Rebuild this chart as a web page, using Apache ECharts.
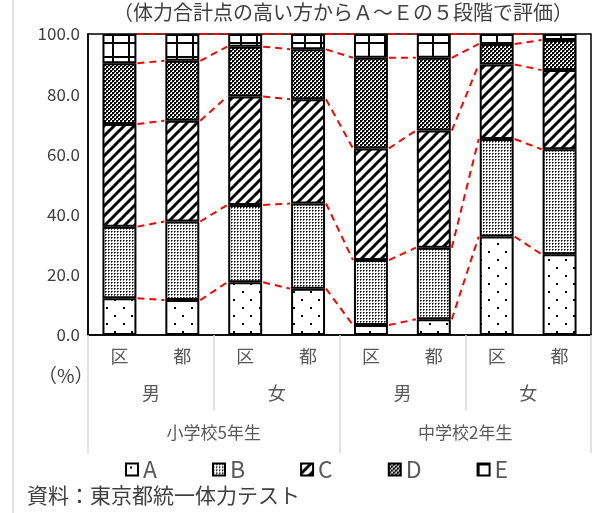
<!DOCTYPE html>
<html>
<head>
<meta charset="utf-8">
<script src="https://cdn.jsdelivr.net/npm/echarts@6/dist/echarts.min.js"></script>
<style>
  html, body { margin: 0; padding: 0; background: #fff; }
  #chart { width: 606px; height: 513px; }
</style>
</head>
<body>
<div id="chart"></div>
<script>
// category labels (3 levels)
const cityLabels = ['区', '都', '区', '都', '区', '都', '区', '都'];
const sexLabels = ['男', '女', '男', '女'];
const gradeLabels = ['小学校5年生', '中学校2年生'];
const yTicks = [0, 20, 40, 60, 80, 100];

// share of each grade (%)
const gradeA = [12.2, 11.6, 17.5, 15.4, 3.3, 5.2, 32.7, 26.8];
const gradeB = [23.8, 26.1, 25.7, 28.3, 21.6, 23.8, 32.4, 34.9];
const gradeC = [34.1, 33.5, 36.0, 34.6, 37.1, 38.9, 24.8, 26.3];
const gradeD = [20.2, 19.9, 16.6, 16.6, 30.1, 24.2, 6.8, 10.0];
const gradeE = [9.7, 8.9, 4.2, 5.1, 7.9, 7.9, 3.3, 2.0];

const FONT = '"Noto Sans CJK JP", "Noto Sans", sans-serif';

function makePattern(w, h, draw) {
    let c = document.createElement('canvas');
    c.width = w;
    c.height = h;
    let ctx = c.getContext('2d');
    ctx.fillStyle = '#fff';
    ctx.fillRect(0, 0, w, h);
    ctx.fillStyle = '#000';
    ctx.strokeStyle = '#000';
    draw(ctx);
    return { image: c, repeat: 'repeat' };
}

// A: sparse dots
const patA = makePattern(17, 16, function (ctx) {
    ctx.fillRect(4, 3, 2, 2);
    ctx.fillRect(12, 11, 2, 2);
});
// B: fine dots
const patB = makePattern(3, 3, function (ctx) {
    ctx.fillRect(0, 0, 1, 1);
    ctx.fillStyle = '#666';
    ctx.fillRect(1, 0, 1, 1);
    ctx.fillRect(0, 1, 1, 1);
});
// C: thick diagonal stripes
const patC = makePattern(10, 10, function (ctx) {
    ctx.lineWidth = 3;
    ctx.beginPath();
    ctx.moveTo(-2, 12); ctx.lineTo(12, -2);
    ctx.moveTo(-7, 7); ctx.lineTo(7, -7);
    ctx.moveTo(3, 17); ctx.lineTo(17, 3);
    ctx.stroke();
});
// D: dark checker
const patD = makePattern(4, 4, function (ctx) {
    ctx.fillRect(0, 0, 2, 2);
    ctx.fillRect(2, 2, 2, 2);
    ctx.fillStyle = '#444';
    ctx.fillRect(2, 0, 1, 1);
    ctx.fillRect(0, 2, 1, 1);
});
// E: large grid
const patE = makePattern(16, 14, function (ctx) {
    ctx.fillRect(0, 0, 2, 14);
    ctx.fillRect(0, 0, 16, 2);
});

const grades = [
    { name: 'A', data: gradeA, pat: patA },
    { name: 'B', data: gradeB, pat: patB },
    { name: 'C', data: gradeC, pat: patC },
    { name: 'D', data: gradeD, pat: patD },
    { name: 'E', data: gradeE, pat: patE }
];

// cumulative tops of each segment, per bar
let cumTops = cityLabels.map(function (_, i) {
    let sum = 0;
    return grades.map(function (g) {
        sum += g.data[i];
        return sum;
    });
});

const BAR_FRAC = 0.54;

let series = grades.map(function (g) {
    return {
        name: g.name,
        type: 'bar',
        stack: 'total',
        barWidth: (BAR_FRAC * 100) + '%',
        data: g.data,
        itemStyle: {
            color: g.pat,
            borderColor: '#000',
            borderWidth: 2
        },
        emphasis: { disabled: true }
    };
});

// red dashed connectors between neighbouring bars
series.push({
    type: 'custom',
    z: 5,
    silent: true,
    data: cityLabels.slice(0, -1).map(function (_, i) { return [i]; }),
    renderItem: function (params, api) {
        let i = api.value(0);
        let half = api.size([1, 0])[0] * BAR_FRAC / 2 + 1;
        let children = cumTops[i].map(function (v, k) {
            let p1 = api.coord([i, Math.min(v, 100)]);
            let p2 = api.coord([i + 1, Math.min(cumTops[i + 1][k], 100)]);
            return {
                type: 'line',
                shape: { x1: p1[0] + half, y1: p1[1], x2: p2[0] - half, y2: p2[1] },
                style: { stroke: '#ff0000', lineWidth: 2, lineDash: [7, 5] }
            };
        });
        return { type: 'group', children: children };
    }
});

let chart = echarts.init(document.getElementById('chart'));

const option = {
    animation: false,
    textStyle: { fontFamily: FONT },
    grid: {
        left: 88, right: 15, top: 34, bottom: 178,
        show: true, borderColor: '#000', borderWidth: 1.5
    },
    legend: {
        data: ['A', 'B', 'C', 'D', 'E'],
        left: 120, top: 453,
        itemWidth: 12, itemHeight: 12,
        itemGap: 55,
        icon: 'rect',
        selectedMode: false,
        textStyle: { fontSize: 23, color: '#595959', fontFamily: FONT }
    },
    xAxis: [
        {
            type: 'category',
            data: cityLabels,
            axisLine: { lineStyle: { color: '#000', width: 1.5 } },
            axisTick: { show: false },
            axisLabel: { margin: 12, fontSize: 18, color: '#595959', fontFamily: FONT }
        },
        {
            type: 'category',
            data: sexLabels,
            position: 'bottom',
            axisLine: { show: false },
            axisTick: { show: true, length: 76, lineStyle: { color: '#d9d9d9', width: 1.5 } },
            axisLabel: { margin: 49, fontSize: 18, color: '#595959', fontFamily: FONT }
        },
        {
            type: 'category',
            data: gradeLabels,
            position: 'bottom',
            axisLine: { show: false },
            axisTick: { show: true, length: 118, lineStyle: { color: '#d9d9d9', width: 1.5 } },
            axisLabel: { margin: 89, fontSize: 17, color: '#595959', fontFamily: FONT }
        }
    ],
    yAxis: {
        type: 'value',
        min: yTicks[0],
        max: yTicks[yTicks.length - 1],
        interval: yTicks[1] - yTicks[0],
        axisLine: { show: true, lineStyle: { color: '#000', width: 1.5 } },
        axisTick: { show: false },
        splitLine: { show: false },
        axisLabel: {
            margin: 8, fontSize: 17, color: '#404040', fontFamily: FONT,
            formatter: function (v) { return v.toFixed(1); }
        }
    },
    graphic: [
        {
            type: 'line',
            shape: { x1: 13, y1: 0, x2: 13, y2: 513 },
            style: { stroke: '#d9d9d9', lineWidth: 1.5 }
        },
        {
            type: 'text', left: 113, top: 2,
            style: { text: '（体力合計点の高い方からＡ～Ｅの５段階で評価）', fill: '#404040', font: '20px ' + FONT }
        },
        {
            type: 'text', left: 38, top: 366,
            style: { text: '（%）', fill: '#404040', font: '19px ' + FONT }
        },
        {
            type: 'text', left: 27, top: 485,
            style: { text: '資料：東京都統一体力テスト', fill: '#404040', font: '21px ' + FONT }
        }
    ],
    series: series
};

chart.setOption(option);
</script>
</body>
</html>
